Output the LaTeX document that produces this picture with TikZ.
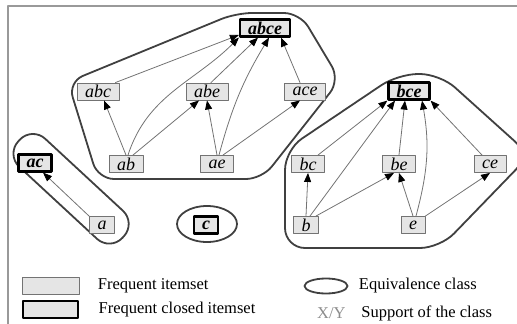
\documentclass[tikz,border=0pt]{standalone}
\usepackage{fontspec}
\setmainfont{Liberation Serif}
\usetikzlibrary{arrows}
\usetikzlibrary{arrows.meta}
\usetikzlibrary{positioning}
\usetikzlibrary{shapes.geometric}

\begin{document}
\begin{tikzpicture}[line cap=round,line join=round,x=1pt,y=1pt,
  >={Triangle[length=9pt,width=7pt,color=black]},
  itemset/.style={draw=black!55,fill=black!10,line width=0.9pt,minimum height=17pt,inner xsep=8pt,inner ysep=0pt,font=\fontsize{18}{18}\selectfont\itshape},
  closedset/.style={itemset,draw=black,line width=2.2pt,font=\fontsize{18}{18}\selectfont\bfseries\itshape},
  link/.style={->,draw=black!55,line width=0.8pt},
  eqclass/.style={draw=black!75,line width=1.8pt},
  legend/.style={anchor=west,font=\fontsize{16.5}{18}\selectfont}]
\useasboundingbox (0,0) rectangle (517,-324);
\clip (0,0) rectangle (517,-324);
% frame
\draw[black!40,line width=1.2pt] (8,-330) -- (8,-6) -- (520,-6);
% equivalence classes
\draw[eqclass,rounded corners=16pt] (68,-82) -- (236,-13) -- (300,-13) -- (340,-80) -- (262,-179) -- (98,-179) -- cycle;
\draw[eqclass,rounded corners=20pt] (285,-150) -- (398,-74) -- (440,-74) -- (530,-155) -- (440,-248) -- (285,-248) -- cycle;
\draw[eqclass,rounded corners=18pt,shift={(35,-163)},rotate=-42.8] (-27,-13.5) rectangle (115,24.7);
\draw[eqclass] (207,-224) ellipse (30 and 18);
% itemsets
\node[closedset] (abce) at (265,-28) {abce};
\node[itemset] (abc) at (98,-91.5) {abc};
\node[itemset] (abe) at (207,-91.5) {abe};
\node[itemset] (ace) at (305,-91.5) {ace};
\node[itemset] (ab) at (126,-164) {ab};
\node[itemset] (ae) at (217,-164) {ae};
\node[closedset] (ac) at (35,-163) {ac};
\node[itemset] (a) at (102,-225) {a};
\node[closedset] (c) at (206,-225) {c};
\node[closedset] (bce) at (409,-91) {bce};
\node[itemset] (bc) at (308,-164) {bc};
\node[itemset] (be) at (399,-164) {be};
\node[itemset] (ce) at (490,-164) {ce};
\node[itemset] (b) at (306,-225) {b};
\node[itemset] (e) at (413,-225) {e};
% arrows
\draw[link] ([xshift=-4pt]abc.north east) -- (abce.195);
\draw[link] (ab.north) -- ([xshift=6pt]abc.south);
\draw[link] ([xshift=2pt]ab.north) to[out=72,in=-135] (abce.south west);
\draw[link] ([xshift=7pt]ab.north) -- ([xshift=-8pt]abe.south);
\draw[link] ([xshift=4pt]abe.north) -- ([xshift=-7pt]abce.south);
\draw[link] (ae.north) -- (abe.south);
\draw[link] ([xshift=2pt]ae.north) to[bend left=8] ([xshift=4pt]abce.south);
\draw[link] ([xshift=6pt]ae.north) -- ([xshift=-5pt]ace.south);
\draw[link] ([xshift=-5pt]ace.north) -- ([xshift=16pt]abce.south);
\draw[link] (a.north west) -- ([xshift=8pt]ac.south);
\draw[link] ([xshift=10pt]bc.north) -- (bce.south west);
\draw[link] (b.north) -- (bc.south);
\draw[link] ([xshift=4pt]b.north) -- ([xshift=-14pt]bce.south);
\draw[link] ([xshift=10pt]b.north) -- ([xshift=-5pt]be.south);
\draw[link] (be.north) -- ([xshift=-4pt]bce.south);
\draw[link] (e.north) -- (be.south);
\draw[link] ([xshift=3pt]e.north) to[out=75,in=-80] ([xshift=13pt]bce.south);
\draw[link] (e.north east) -- (ce.south);
\draw[link] ([xshift=-8pt]ce.north) -- (bce.south east);
% legend
\node[itemset,minimum width=57pt] (key1) at (50.5,-285.5) {};
\node[closedset,minimum width=55pt] (key2) at (50.5,-309.5) {};
\node[legend,right=15pt of key1] {Frequent itemset};
\node[legend,right=16pt of key2] {Frequent closed itemset};
\node[ellipse,eqclass,minimum width=43pt,minimum height=15pt,inner sep=0pt] (key3) at (326,-286) {};
\node[legend,right=7pt of key3] {Equivalence class};
\node[legend,text=black!45,inner sep=0pt] (key4) at (317,-313) {X/Y};
\node[legend,right=12pt of key4] {Support of the class};
\end{tikzpicture}
\end{document}
